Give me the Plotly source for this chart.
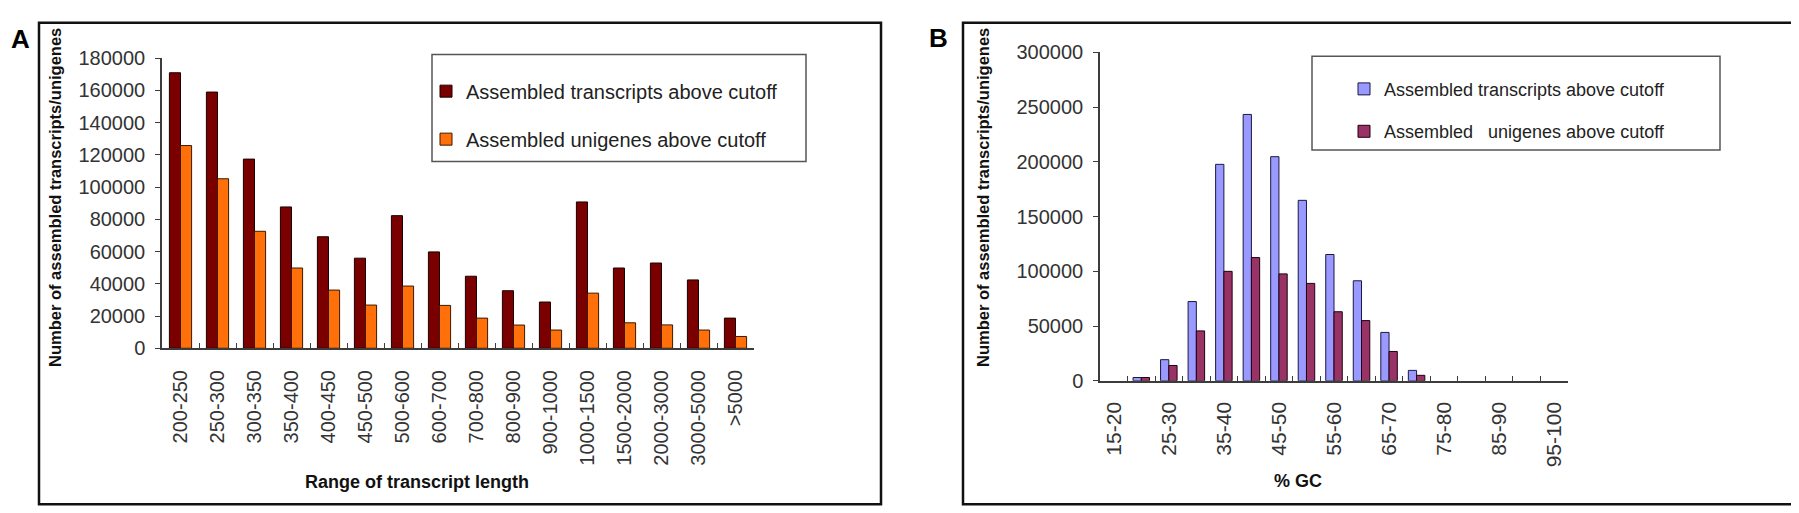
import plotly.graph_objects as go

# ---------------- data ----------------
len_categories = ["200-250", "250-300", "300-350", "350-400", "400-450", "450-500",
                  "500-600", "600-700", "700-800", "800-900", "900-1000", "1000-1500",
                  "1500-2000", "2000-3000", "3000-5000", ">5000"]
len_transcripts = [171000, 159000, 117400, 87700, 69200, 55900, 82300, 59800, 44700,
                   35700, 28700, 90800, 49800, 52900, 42400, 18700]
len_unigenes = [125800, 105200, 72600, 49800, 36100, 26800, 38600, 26600, 18700,
                14400, 11300, 34200, 15800, 14500, 11300, 7300]

gc_categories = ["15-20", "20-25", "25-30", "30-35", "35-40", "40-45", "45-50", "50-55",
                 "55-60", "60-65", "65-70", "70-75", "75-80", "80-85", "85-90", "90-95",
                 "95-100"]
gc_tick_labels = ["15-20", "", "25-30", "", "35-40", "", "45-50", "", "55-60", "",
                  "65-70", "", "75-80", "", "85-90", "", "95-100"]
gc_transcripts = [None, 3000, 19300, 72400, 197800, 243400, 204800, 164900, 115400, 91400,
                  44200, 9500, None, None, None, None, None]
gc_unigenes = [None, 3000, 14000, 45600, 100000, 112600, 97700, 89000, 63100, 55000,
               26800, 5000, None, None, None, None, None]

W, H = 1799, 513
def px(x):
    return x / W
def py(y):
    return 1 - y / H

FONT = "Liberation Sans, Arial, sans-serif"
AXC = "#3c3c3c"

fig = go.Figure()

fig.add_trace(go.Bar(x=len_categories, y=len_transcripts, name="Assembled transcripts above cutoff",
                     marker=dict(color="#7A0000", line=dict(color="#1a0000", width=1)),
                     xaxis="x", yaxis="y", legend="legend", legendgroup="a1"))
fig.add_trace(go.Bar(x=len_categories, y=len_unigenes, name="Assembled unigenes above cutoff",
                     marker=dict(color="#FF700A", line=dict(color="#3a1a00", width=1)),
                     xaxis="x", yaxis="y", legend="legend", legendgroup="a2"))
fig.add_trace(go.Bar(x=gc_categories, y=gc_transcripts, name="Assembled transcripts above cutoff",
                     marker=dict(color="#9999FF", line=dict(color="#1a1a40", width=1)),
                     xaxis="x2", yaxis="y2", legend="legend2", legendgroup="b1"))
fig.add_trace(go.Bar(x=gc_categories, y=gc_unigenes,
                     name="Assembled\u00a0\u00a0\u00a0unigenes above cutoff",
                     marker=dict(color="#993366", line=dict(color="#200010", width=1)),
                     xaxis="x2", yaxis="y2", legend="legend2", legendgroup="b2"))

common_x = dict(showline=True, linecolor=AXC, linewidth=1.5, ticks="inside",
                tickson="boundaries", ticklen=5, tickcolor=AXC, tickangle=-90,
                showgrid=False, zeroline=False, fixedrange=True)
common_y = dict(showline=True, linecolor=AXC, linewidth=1.5, ticks="outside",
                ticklen=5, tickcolor=AXC, showgrid=False, zeroline=False,
                tickformat="d", ticklabelstandoff=6,
                tickfont=dict(family=FONT, size=20, color="#333333"))

fig.update_layout(
    width=W, height=H, margin=dict(l=0, r=0, t=0, b=0),
    paper_bgcolor="white", plot_bgcolor="white",
    barmode="group", bargap=0.4, bargroupgap=0,
    font=dict(family=FONT, color="#222222"),
    xaxis=dict(domain=[px(154), px(746)], anchor="y", range=[-0.5, 15.5],
               tickfont=dict(family=FONT, size=20, color="#333333"),
               ticklabelstandoff=12, **common_x),
    yaxis=dict(domain=[py(344), py(41)], anchor="x", range=[0, 180000], dtick=20000,
               **common_y),
    xaxis2=dict(domain=[px(1092), px(1560)], anchor="y2", range=[-0.5, 16.5],
                tickmode="array", tickvals=gc_categories, ticktext=gc_tick_labels,
                tickfont=dict(family=FONT, size=21, color="#333333"),
                ticklabelstandoff=11, **common_x),
    yaxis2=dict(domain=[py(378), py(35)], anchor="x2", range=[0, 300000], dtick=50000,
                **common_y),
    legend=dict(x=px(418), xanchor="left", y=py(55), yanchor="top",
                bgcolor="rgba(0,0,0,0)", borderwidth=0,
                font=dict(family=FONT, size=20, color="#222222"),
                traceorder="grouped", tracegroupgap=19),
    legend2=dict(x=px(1336), xanchor="left", y=py(54), yanchor="top",
                 bgcolor="rgba(0,0,0,0)", borderwidth=0,
                 font=dict(family=FONT, size=18, color="#222222"),
                 traceorder="grouped", tracegroupgap=16),
    showlegend=True,
)

shapes = [
    # panel frames
    dict(type="rect", xref="paper", yref="paper", x0=px(31), x1=px(873), y0=py(507), y1=py(4),
         line=dict(color="#111111", width=2.5)),
    dict(type="rect", xref="paper", yref="paper", x0=px(955), x1=px(1794), y0=py(507), y1=py(4),
         line=dict(color="#111111", width=2.5)),
    # legend boxes
    dict(type="rect", xref="paper", yref="paper", x0=px(424), x1=px(798), y0=py(149), y1=py(37),
         line=dict(color="#555555", width=1.5)),
    dict(type="rect", xref="paper", yref="paper", x0=px(1304), x1=px(1712), y0=py(137), y1=py(39),
         line=dict(color="#555555", width=1.5)),
]
fig.update_layout(shapes=shapes)

annotations = [
    dict(text="<b>A</b>", x=px(12), y=py(21), font=dict(size=26, color="#000000")),
    dict(text="<b>B</b>", x=px(930), y=py(20), font=dict(size=26, color="#000000")),
    dict(text="<b>Range of transcript length</b>", x=px(409), y=py(484),
         font=dict(size=18, color="#111111")),
    dict(text="<b>% GC</b>", x=px(1290), y=py(483), font=dict(size=18, color="#111111")),
    dict(text="<b>Number of assembled transcripts/unigenes</b>", x=px(47), y=py(187),
         textangle=-90, font=dict(size=16.5, color="#111111")),
    dict(text="<b>Number of assembled transcripts/unigenes</b>", x=px(975), y=py(186),
         textangle=-90, font=dict(size=16.5, color="#111111")),
]
for a in annotations:
    a.update(xref="paper", yref="paper", showarrow=False, xanchor="center", yanchor="middle")
    a["font"]["family"] = FONT
fig.update_layout(annotations=annotations)

fig.write_html("out.html")
